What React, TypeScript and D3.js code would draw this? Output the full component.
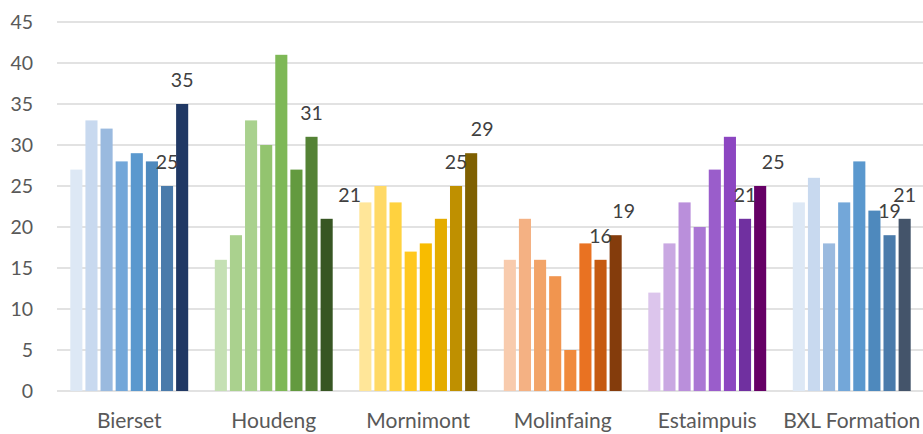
import React from 'react';
import * as d3 from 'd3';

const categories = ['Bierset', 'Houdeng', 'Mornimont', 'Molinfaing', 'Estaimpuis', 'BXL Formation'];

// one array per site, eight bars each
const bierset = [27, 33, 32, 28, 29, 28, 25, 35];
const houdeng = [16, 19, 33, 30, 41, 27, 31, 21];
const mornimont = [23, 25, 23, 17, 18, 21, 25, 29];
const molinfaing = [16, 21, 16, 14, 5, 18, 16, 19];
const estaimpuis = [12, 18, 23, 20, 27, 31, 21, 25];
const bxl = [23, 26, 18, 23, 28, 22, 19, 21];

const yTicks = [0, 5, 10, 15, 20, 25, 30, 35, 40, 45];

// series indexes that carry a data label
const labelled = [6, 7];

const palettes = [
  ['#DDE8F5', '#C8D9EF', '#9ABADF', '#73A7D9', '#5A98CE', '#4E89BD', '#4A7BAB', '#203864'],
  ['#C5E0B4', '#AAD18E', '#A9D18E', '#93C46F', '#7EB856', '#639A3F', '#548235', '#375623'],
  ['#FFE699', '#FFD966', '#FFD23F', '#FFC81F', '#F8BC00', '#E4AC00', '#BF9000', '#7F6000'],
  ['#F8CBAD', '#F4B183', '#F2A468', '#F1954F', '#F08A3C', '#E97222', '#C55A11', '#843C0C'],
  ['#DCC5EC', '#C9A8E2', '#BA8FDB', '#AA77D4', '#9A5DCB', '#8C46C1', '#7030A0', '#660066'],
  ['#DDE8F5', '#C8D9EF', '#9ABADF', '#73A7D9', '#5A98CE', '#4E89BD', '#4A7BAB', '#44546A'],
];

// a few labels sit a little to the right of their bar
const labelNudge: Record<string, number> = { '1-7': 23, '2-7': 11, '3-7': 8, '4-7': 13 };

const W = 923;
const H = 434;
const FONT = 'Lato, "Open Sans", sans-serif';

export default function App() {
  const rows = [bierset, houdeng, mornimont, molinfaing, estaimpuis, bxl];

  const x = d3.scaleBand<string>().domain(categories).range([57, 924]);
  const inner = d3
    .scaleBand<number>()
    .domain(d3.range(8))
    .range([0, x.bandwidth()])
    .paddingInner(0.2)
    .paddingOuter(0.88);
  const y = d3.scaleLinear().domain([0, 45]).range([391, 22]);

  return (
    <div style={{ position: 'fixed', left: 0, top: 0 }}>
      <svg width={W} height={H} style={{ display: 'block', background: '#fff' }} fontFamily={FONT}>
        {yTicks.map(t => (
          <g key={t}>
            <line x1={57} x2={W} y1={y(t)} y2={y(t)} stroke="#D9D9D9" strokeWidth={1.4} />
            <text x={33} y={y(t)} dy="0.35em" textAnchor="end" fontSize={19.5} fill="#595959">
              {t}
            </text>
          </g>
        ))}

        {rows.map((vals, ci) => (
          <g key={categories[ci]} transform={`translate(${x(categories[ci])},0)`}>
            {vals.map((v, si) => (
              <rect
                key={si}
                x={inner(si)}
                y={y(v)}
                width={inner.bandwidth()}
                height={y(0) - y(v)}
                fill={palettes[ci][si]}
              />
            ))}
            {labelled.map(si => (
              <text
                key={'l' + si}
                x={(inner(si) ?? 0) + inner.bandwidth() / 2 + (labelNudge[`${ci}-${si}`] ?? 0)}
                y={y(vals[si]) - 24}
                dy="0.35em"
                textAnchor="middle"
                fontSize={19.5}
                fill="#404040"
              >
                {vals[si]}
              </text>
            ))}
          </g>
        ))}

        {categories.map(c => (
          <text
            key={c}
            x={(x(c) ?? 0) + x.bandwidth() / 2}
            y={421}
            dy="0.35em"
            textAnchor="middle"
            fontSize={21}
            fill="#595959"
          >
            {c}
          </text>
        ))}
      </svg>
    </div>
  );
}
